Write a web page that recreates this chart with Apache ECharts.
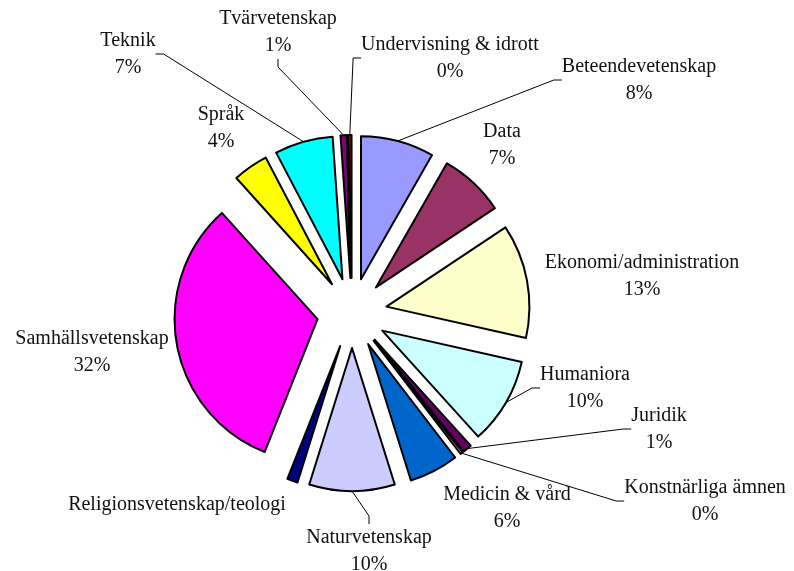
<!DOCTYPE html>
<html>
<head>
<meta charset="utf-8">
<script src="https://cdn.jsdelivr.net/npm/echarts@6/dist/echarts.min.js"></script>
<style>
  html, body { margin: 0; padding: 0; background: #fff; }
  #chart-container { width: 794px; height: 571px; }
</style>
</head>
<body>
<div id="chart-container"></div>
<script>
// areas, clockwise from 12 o'clock
const categories = [
	'Beteendevetenskap',
	'Data',
	'Ekonomi/administration',
	'Humaniora',
	'Juridik',
	'Konstnärliga ämnen',
	'Medicin & vård',
	'Naturvetenskap',
	'Religionsvetenskap/teologi',
	'Samhällsvetenskap',
	'Språk',
	'Teknik',
	'Tvärvetenskap',
	'Undervisning & idrott',
];
const shares = [8.3, 7.4, 12.9, 9.8, 1.0, 0.3, 5.6, 9.7, 1.2, 32.4, 4.0, 6.6, 0.7, 0.4];
const colors = [
	'#9999FF', '#993366', '#FFFFCC', '#CCFFFF', '#660066', '#FF8080', '#0066CC',
	'#CCCCFF', '#000080', '#FF00FF', '#FFFF00', '#00FFFF', '#800080', '#800000',
];

// labels with a leader line in the original
const withLine = ['Teknik', 'Tvärvetenskap', 'Undervisning & idrott', 'Beteendevetenskap',
	'Humaniora', 'Juridik', 'Konstnärliga ämnen', 'Naturvetenskap'];
// label shown without its percent
const nameOnly = ['Religionsvetenskap/teologi'];

// label centres (layout only)
const labelPos = {
	'Beteendevetenskap': [639, 80],
	'Data': [502, 145],
	'Ekonomi/administration': [642, 276],
	'Humaniora': [585, 388],
	'Juridik': [659, 429],
	'Konstnärliga ämnen': [705, 501],
	'Medicin & vård': [507, 508],
	'Naturvetenskap': [369, 551],
	'Religionsvetenskap/teologi': [177, 505],
	'Samhällsvetenskap': [92, 352],
	'Språk': [221, 128],
	'Teknik': [128, 54],
	'Tvärvetenskap': [278, 32],
	'Undervisning & idrott': [450, 58],
};

const pieCenter = [352, 313];
const pieRadius = 143;
const explode = 35;

let dom = document.getElementById('chart-container');
let myChart = echarts.init(dom, null, { renderer: 'canvas' });

// exploded slices (all selected)
const sliceData = categories.map(function (name, i) {
	return {
		name: name,
		value: shares[i],
		selected: true,
		itemStyle: { color: colors[i] },
	};
});

// invisible twin pie that only carries the labels and leader lines
const labelData = categories.map(function (name, i) {
	return {
		name: name,
		value: shares[i],
		labelLine: { show: withLine.indexOf(name) >= 0 },
	};
});

let option = {
	animation: false,
	backgroundColor: '#fff',
	series: [
		{
			type: 'pie',
			z: 1,
			silent: true,
			center: pieCenter,
			radius: pieRadius + explode,
			startAngle: 90,
			clockwise: true,
			avoidLabelOverlap: false,
			itemStyle: { color: 'rgba(0,0,0,0)', borderWidth: 0 },
			emphasis: { disabled: true },
			label: {
				show: true,
				position: 'outside',
				color: '#111',
				fontFamily: '"Liberation Serif", serif',
				fontSize: 20,
				lineHeight: 27,
				align: 'center',
				formatter: function (p) {
					if (nameOnly.indexOf(p.name) >= 0) {
						return p.name;
					}
					return p.name + '\n' + Math.round(p.percent) + '%';
				},
			},
			labelLine: {
				length: 8,
				length2: 8,
				lineStyle: { color: '#000', width: 1 },
			},
			labelLayout: function (params) {
				const pos = labelPos[categories[params.dataIndex]];
				return {
					x: pos[0],
					y: pos[1],
					align: 'center',
					verticalAlign: 'middle',
				};
			},
			data: labelData,
		},
		{
			type: 'pie',
			z: 2,
			center: pieCenter,
			radius: pieRadius,
			startAngle: 90,
			clockwise: true,
			selectedMode: 'multiple',
			selectedOffset: explode,
			itemStyle: { borderColor: '#000', borderWidth: 2 },
			select: {
				itemStyle: { borderColor: '#000', borderWidth: 2 },
			},
			emphasis: { disabled: true },
			label: { show: false },
			labelLine: { show: false },
			data: sliceData,
		},
	],
};

myChart.setOption(option);
window.addEventListener('resize', myChart.resize);
</script>
</body>
</html>
